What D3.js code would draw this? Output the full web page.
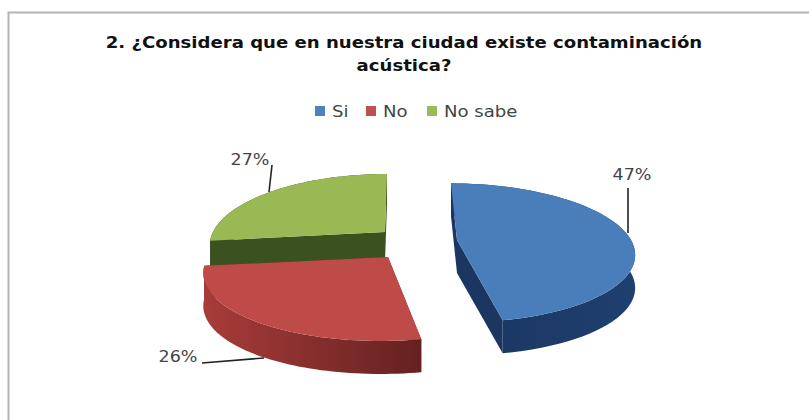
<!DOCTYPE html>
<html>
<head>
<meta charset="utf-8">
<script src="https://cdn.jsdelivr.net/npm/d3@7"></script>
<style>
html,body{margin:0;padding:0;background:#fff}
svg{display:block}
text{font-family:"DejaVu Sans",sans-serif}
</style>
</head>
<body>
<svg id="chart" width="809" height="420"></svg>
<script>
// Survey answers
const categories = ["Si", "No", "No sabe"];
const shares = [47, 26, 27];
const percentLabels = ["47%", "26%", "27%"];
const titleLines = ["2. ¿Considera que en nuestra ciudad existe contaminación", "acústica?"];

const topColors = ["#4a7ebb", "#be4b48", "#98b954"];
const legendColors = ["#4f81bd", "#c0504d", "#9bbb59"];
const wallDark = ["#1b3660", "#642120", "#3a5220"];
const wallLight = ["#1f3f70", "#a83c39", "#3a5220"];

// Exploded centre, radii, lean and thickness of each wedge
const hubs = [[457, 240], [388, 257], [385, 232]];
const radii = [174, 180, 172];
const verticalRadii = [67, 68.6, 68.6];
const lean = [6, -8, -2];
const thickness = [33, 33, 30];
const perspective = 0.183;
const textStretch = 1.13;

const svg = d3.select("#chart");
const defs = svg.append("defs");

// Widens a text selection by the shared stretch factor
function widen(sel) {
  sel.attr("lengthAdjust", "spacingAndGlyphs")
    .attr("textLength", function () { return this.getComputedTextLength() * textStretch; });
}

// The chart frame shows only along its top and left sides
svg.append("path").attr("d", d3.line()([[8.5, 420], [8.5, 12.5], [809, 12.5]]))
  .attr("fill", "none").attr("stroke", "#b4b4b4").attr("stroke-width", 2);

svg.append("g").selectAll("text").data(titleLines).join("text")
  .attr("x", 404).attr("y", (d, i) => 48 + i * 23)
  .attr("text-anchor", "middle").attr("font-size", 16).attr("font-weight", 700)
  .attr("fill", "#111").text(d => d).call(widen);

// Legend
const legendX = d3.scaleOrdinal().domain(categories).range([315, 366, 427]);
const legend = svg.append("g").selectAll("g").data(categories).join("g")
  .attr("transform", d => `translate(${legendX(d)},0)`);
legend.append("rect").attr("y", 106).attr("width", 10).attr("height", 10)
  .attr("fill", (d, i) => legendColors[i]);
legend.append("text").attr("x", 17).attr("y", 117).attr("font-size", 16).attr("fill", "#444").text(d => d).call(widen);

const wedges = d3.pie().sort(null).value(d => d)(shares);

// Projects a point of the tilted disc, nearer points appearing larger
function project(i, angle, r, drop) {
  const u = Math.sin(angle) * r, v = -Math.cos(angle) * r;
  const s = 1 / (1 - perspective * v);
  return [hubs[i][0] + radii[i] * u * s + lean[i] * v,
          hubs[i][1] + verticalRadii[i] * v * s + (drop || 0)];
}
const outline = d3.line();

// Far to near drawing order
[2, 1, 0].forEach(i => {
  const w = wedges[i];
  const angles = d3.range(0, 61).map(k => w.startAngle + (w.endAngle - w.startAngle) * k / 60);
  const rim = angles.map(a => project(i, a, 1));
  const rimLow = angles.map(a => project(i, a, 1, thickness[i])).reverse();
  const hub = project(i, 0, 0), hubLow = project(i, 0, 0, thickness[i]);
  const g = svg.append("g");

  const gradId = "wall" + i;
  const grad = defs.append("linearGradient").attr("id", gradId).attr("gradientUnits", "userSpaceOnUse")
    .attr("x1", d3.min(rim, p => p[0])).attr("x2", d3.max(rim, p => p[0])).attr("y1", 0).attr("y2", 0);
  const stops = i === 0 ? [wallDark[0], wallLight[0]] : [wallLight[i], wallDark[i]];
  grad.append("stop").attr("offset", "0%").attr("stop-color", stops[0]);
  grad.append("stop").attr("offset", "100%").attr("stop-color", stops[1]);

  // Flat walls on both radial edges, then the curved rim, then the top face
  g.append("path").attr("fill", wallDark[i])
    .attr("d", outline([rim[0], hub, hubLow, project(i, w.startAngle, 1, thickness[i])]) + "Z");
  g.append("path").attr("fill", wallDark[i])
    .attr("d", outline([rim[60], hub, hubLow, project(i, w.endAngle, 1, thickness[i])]) + "Z");
  g.append("path").attr("fill", `url(#${gradId})`)
    .attr("d", outline(rim.concat(rimLow)) + "Z");
  g.append("path").attr("fill", topColors[i])
    .attr("d", outline([hub].concat(rim)) + "Z");
});

// Leader lines and percentage labels
const labelSpots = [[632, 180], [178, 362], [250, 165]];
const leaderAnchors = [
  [[628, 188], [628, 233]],
  [[202, 363], [264, 358]],
  [[272, 165], [269, 192]]
];
shares.forEach((v, i) => {
  svg.append("path").attr("d", outline(leaderAnchors[i]))
    .attr("fill", "none").attr("stroke", "#222").attr("stroke-width", 1.6);
  svg.append("text").attr("x", labelSpots[i][0]).attr("y", labelSpots[i][1])
    .attr("text-anchor", "middle").attr("font-size", 15.5).attr("fill", "#444")
    .text(percentLabels[i]).call(widen);
});
</script>
</body>
</html>
